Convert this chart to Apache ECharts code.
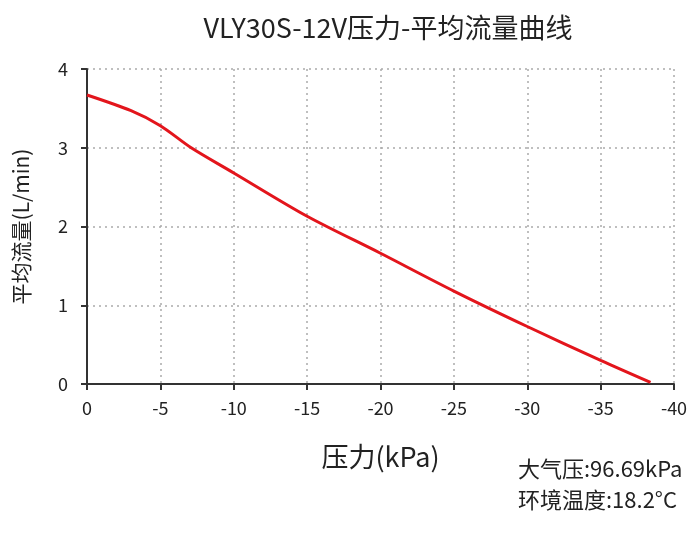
<!DOCTYPE html>
<html>
<head>
<meta charset="utf-8">
<script src="https://cdn.jsdelivr.net/npm/echarts@6/dist/echarts.min.js"></script>
<style>
  html, body { margin: 0; padding: 0; background: #fff; }
  #chart { width: 700px; height: 533px; }
</style>
</head>
<body>
<div id="chart"></div>
<script>
// 压力 (kPa) 与 平均流量 (L/min)
var pressure = [0, -3, -5, -7.1, -10, -15, -20, -25, -30, -35, -38.4];
var flow = [3.67, 3.47, 3.28, 3.0, 2.68, 2.13, 1.66, 1.18, 0.73, 0.30, 0.02];
var xTicks = [0, -5, -10, -15, -20, -25, -30, -35, -40];
var yTicks = [0, 1, 2, 3, 4];
var noteLines = ['大气压:96.69kPa', '环境温度:18.2°C'];

var font = '"Noto Sans CJK SC", "Noto Sans", sans-serif';
var chart = echarts.init(document.getElementById('chart'));

var points = [];
for (var i = 0; i < pressure.length; i++) points.push([pressure[i], flow[i]]);

var gridLine = { show: true, lineStyle: { color: '#aaa', type: [2, 4], width: 1.5 } };
var axisLine = { show: true, onZero: false, lineStyle: { color: '#333', width: 2 } };

chart.setOption({
  animation: false,
  textStyle: { fontFamily: font },
  title: {
    text: 'VLY30S-12V压力-平均流量曲线',
    left: 383, top: 9, textAlign: 'center',
    textStyle: { fontFamily: font, fontSize: 27, fontWeight: 'normal', color: '#222' }
  },
  grid: { left: 87, right: 26, top: 69, bottom: 149, containLabel: false },
  xAxis: {
    type: 'value', inverse: true, min: -40, max: 0, interval: 5,
    name: '压力(kPa)', nameLocation: 'middle', nameGap: 59,
    nameTextStyle: { fontFamily: font, fontSize: 27, color: '#222' },
    axisLine: axisLine,
    axisTick: { show: true, length: 6, lineStyle: { color: '#333', width: 2 } },
    axisLabel: {
      fontSize: 18, color: '#222', margin: 15,
      customValues: xTicks,
      formatter: function (v) { return String(v); }
    },
    splitLine: gridLine
  },
  yAxis: {
    type: 'value', min: 0, max: 4, interval: 1,
    name: '平均流量(L/min)', nameLocation: 'middle', nameGap: 55,
    nameTextStyle: { fontFamily: font, fontSize: 21, color: '#222' },
    axisLine: axisLine,
    axisTick: { show: true, length: 6, lineStyle: { color: '#333', width: 2 } },
    axisLabel: { fontSize: 18, color: '#222', margin: 19, customValues: yTicks },
    splitLine: gridLine
  },
  graphic: [
    {
      type: 'text', left: 518, top: 458,
      style: { text: noteLines[0], font: '22px ' + font, fill: '#222' }
    },
    {
      type: 'text', left: 518, top: 489,
      style: { text: noteLines[1], font: '22px ' + font, fill: '#222' }
    }
  ],
  series: [{
    type: 'line',
    data: points,
    smooth: 0.3,
    symbol: 'none',
    lineStyle: { color: '#e3151c', width: 3 }
  }]
});
</script>
</body>
</html>
